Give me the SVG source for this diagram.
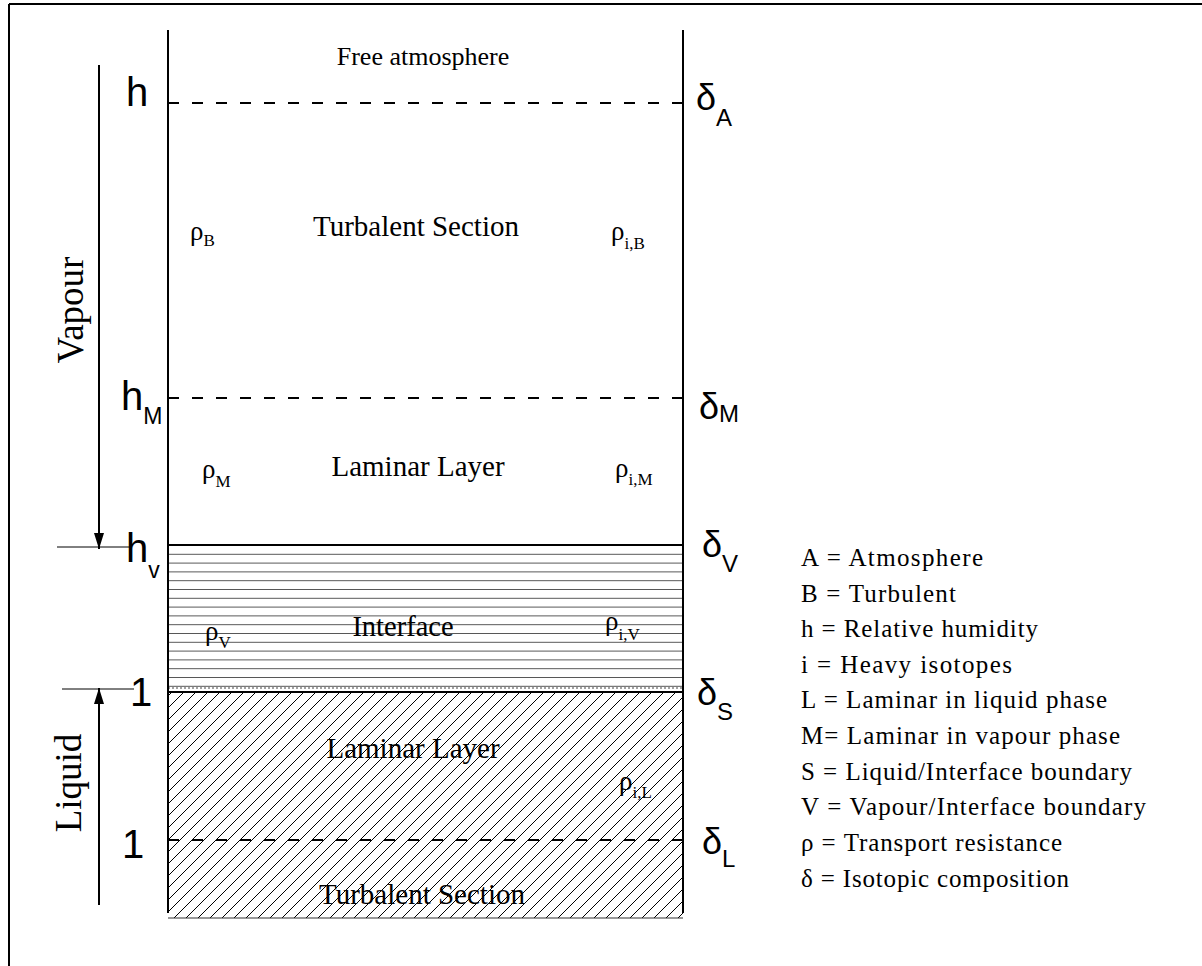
<svg xmlns="http://www.w3.org/2000/svg" width="1202" height="966" viewBox="0 0 1202 966">
<style>
.ser{font-family:"Liberation Serif","Times New Roman",serif;fill:#000}
.san{font-family:"Liberation Sans",Arial,sans-serif;fill:#000}
.ln{stroke:#000;stroke-width:2;fill:none}
.dash{stroke:#000;stroke-width:2;stroke-dasharray:11 13;fill:none}
.lbl{font-size:27px}
.sub{font-size:17px}
.leg{font-size:25px}
</style>
<defs>
<pattern id="diag" patternUnits="userSpaceOnUse" width="12" height="12">
<path d="M-3,3 L3,-3 M0,12 L12,0 M9,15 L15,9" stroke="#000" stroke-width="1"/>
</pattern>
<pattern id="horiz" patternUnits="userSpaceOnUse" x="0" y="545" width="20" height="8.8">
<line x1="0" y1="0.5" x2="20" y2="0.5" stroke="#555" stroke-width="1"/>
</pattern>
<marker id="ah" markerWidth="16" markerHeight="10" refX="16" refY="5" orient="auto" markerUnits="userSpaceOnUse" viewBox="0 0 16 10">
<path d="M0,0 L16,5 L0,10 Z" fill="#000"/>
</marker>
</defs>
<rect x="0" y="0" width="1202" height="966" fill="#fff"/>
<g id="frame">
<line x1="9" y1="4" x2="1202" y2="4" class="ln"/>
<line x1="9" y1="4" x2="9" y2="966" class="ln"/>
</g>
<g id="layers">
<rect x="168" y="545" width="515" height="144" fill="url(#horiz)"/>
<rect x="168" y="692" width="515" height="226" fill="url(#diag)"/>
<line x1="168" y1="918" x2="683" y2="918" stroke="#333" stroke-width="1"/>
<line x1="168" y1="688" x2="683" y2="688" stroke="#444" stroke-width="1" stroke-dasharray="2 2"/>
<line x1="168" y1="692" x2="683" y2="692" class="ln"/>
<line x1="168" y1="545" x2="683" y2="545" class="ln"/>
<line x1="168" y1="103" x2="683" y2="103" class="dash"/>
<line x1="168" y1="398" x2="683" y2="398" class="dash"/>
<line x1="168" y1="840" x2="683" y2="840" class="dash"/>
<line x1="168" y1="30" x2="168" y2="913" class="ln"/>
<line x1="683" y1="30" x2="683" y2="913" class="ln"/>
</g>
<g id="connectors">
<line x1="99" y1="65" x2="99" y2="549" stroke="#000" stroke-width="2" marker-end="url(#ah)"/>
<line x1="99" y1="905" x2="99" y2="688" stroke="#000" stroke-width="2" marker-end="url(#ah)"/>
<line x1="57" y1="547" x2="130" y2="547" stroke="#000" stroke-width="1"/>
<line x1="62" y1="689" x2="134" y2="689" stroke="#000" stroke-width="1"/>
</g>
<g id="side-labels">
<text class="ser" font-size="37" transform="translate(83,310) rotate(-90)" text-anchor="middle">Vapour</text>
<text class="ser" font-size="37" transform="translate(81,783) rotate(-90)" text-anchor="middle">Liquid</text>
<text class="san" font-size="40" x="126" y="106">h</text>
<text class="san" font-size="40" x="121" y="410">h<tspan font-size="23" dy="14">M</tspan></text>
<text class="san" font-size="40" x="126" y="562">h<tspan font-size="23" dy="16">v</tspan></text>
<text class="san" font-size="40" x="130" y="706">1</text>
<text class="san" font-size="40" x="122" y="858">1</text>
</g>
<g id="delta-labels">
<text class="san" font-size="36" x="696" y="110">δ<tspan font-size="24" dy="16">A</tspan></text>
<text class="san" font-size="36" x="699" y="419">δ<tspan font-size="24" dy="3">M</tspan></text>
<text class="san" font-size="36" x="702" y="557">δ<tspan font-size="24" dy="15">V</tspan></text>
<text class="san" font-size="36" x="697" y="705">δ<tspan font-size="24" dy="15">S</tspan></text>
<text class="san" font-size="36" x="702" y="854">δ<tspan font-size="24" dy="13">L</tspan></text>
</g>
<g id="section-labels">
<text class="ser" font-size="26" x="423" y="65" text-anchor="middle">Free atmosphere</text>
<text class="ser" font-size="29" x="416" y="236" text-anchor="middle">Turbalent Section</text>
<text class="ser" font-size="29" x="418" y="476" text-anchor="middle">Laminar Layer</text>
<text class="ser" font-size="28.5" x="403" y="636" text-anchor="middle">Interface</text>
<text class="ser" font-size="29" x="413" y="758" text-anchor="middle">Laminar Layer</text>
<text class="ser" font-size="29" x="422" y="904" text-anchor="middle">Turbalent Section</text>
</g>
<g id="resistances">
<text class="ser lbl" x="190" y="240">ρ<tspan class="sub" dy="6">B</tspan></text>
<text class="ser lbl" x="611" y="240">ρ<tspan class="sub" dy="9">i,B</tspan></text>
<text class="ser lbl" x="202" y="478">ρ<tspan class="sub" dy="9">M</tspan></text>
<text class="ser lbl" x="615" y="477">ρ<tspan class="sub" dy="8">i,M</tspan></text>
<text class="ser lbl" x="205" y="640">ρ<tspan class="sub" dy="8">V</tspan></text>
<text class="ser lbl" x="605" y="630">ρ<tspan class="sub" dy="10">i,V</tspan></text>
<text class="ser lbl" x="619" y="790">ρ<tspan class="sub" dy="8">i,L</tspan></text>
</g>
<g id="legend">
<text class="ser leg" x="801" y="566" textLength="182" lengthAdjust="spacing">A = Atmosphere</text>
<text class="ser leg" x="801" y="602" textLength="155" lengthAdjust="spacing">B = Turbulent</text>
<text class="ser leg" x="801" y="637" textLength="237" lengthAdjust="spacing">h = Relative humidity</text>
<text class="ser leg" x="801" y="673" textLength="211" lengthAdjust="spacing">i  = Heavy isotopes</text>
<text class="ser leg" x="801" y="708" textLength="306" lengthAdjust="spacing">L = Laminar in liquid phase</text>
<text class="ser leg" x="801" y="744" textLength="319" lengthAdjust="spacing">M= Laminar in vapour phase</text>
<text class="ser leg" x="801" y="780" textLength="331" lengthAdjust="spacing">S = Liquid/Interface boundary</text>
<text class="ser leg" x="801" y="815" textLength="345" lengthAdjust="spacing">V = Vapour/Interface boundary</text>
<text class="ser leg" x="801" y="851" textLength="261" lengthAdjust="spacing">ρ = Transport resistance</text>
<text class="ser leg" x="801" y="887" textLength="268" lengthAdjust="spacing">δ = Isotopic composition</text>
</g>
</svg>
